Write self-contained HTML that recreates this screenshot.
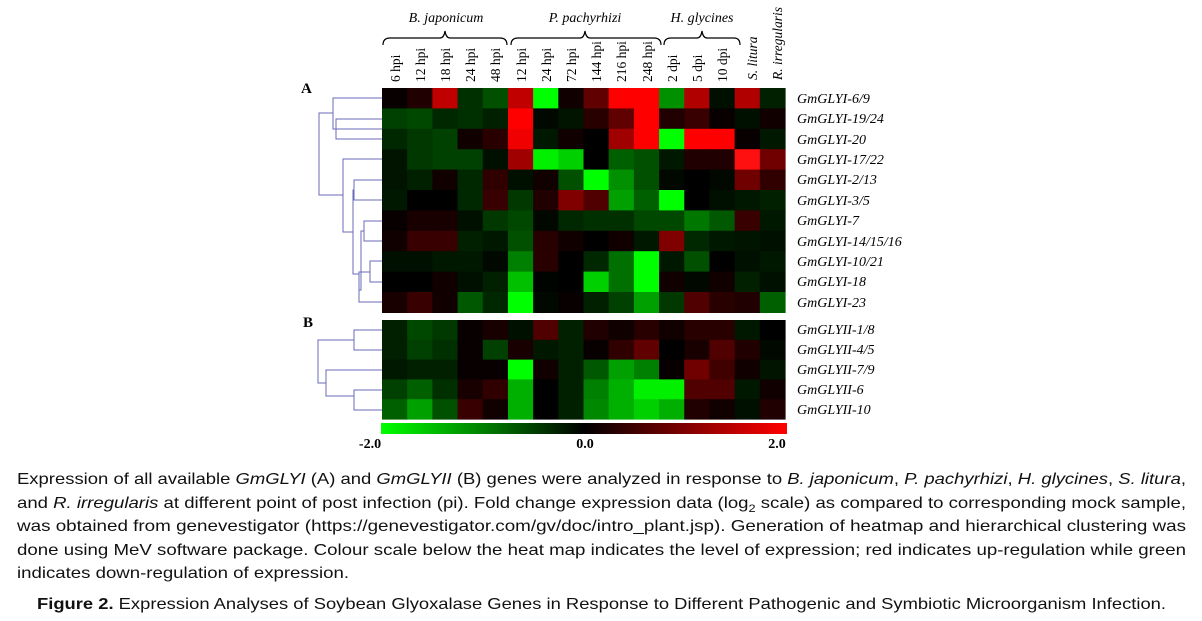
<!DOCTYPE html>
<html><head><meta charset="utf-8"><style>
html,body{margin:0;padding:0;background:#fff;width:1202px;height:621px;overflow:hidden}
svg{display:block}
.cap{font-family:"Liberation Sans",sans-serif;font-size:16px;fill:#111}
.lab{font-family:"Liberation Serif",serif;font-style:italic;font-size:14px;fill:#000}
.col{font-family:"Liberation Serif",serif;font-size:13.5px;fill:#000}
</style></head><body>
<svg id="s" width="1202" height="621" xmlns="http://www.w3.org/2000/svg">
<defs><linearGradient id="g" x1="0" x2="1" y1="0" y2="0"><stop offset="0" stop-color="#00ff00"/><stop offset="0.5" stop-color="#000"/><stop offset="1" stop-color="#ff0000"/></linearGradient></defs>
<g id="hm"></g>
<rect x="381" y="423" width="406" height="11" fill="url(#g)"/>
<g font-family="Liberation Serif,serif" font-weight="bold" font-size="14">
<text x="370" y="448" text-anchor="middle">-2.0</text>
<text x="585" y="448" text-anchor="middle">0.0</text>
<text x="777" y="448" text-anchor="middle">2.0</text>
<text x="301" y="93" font-size="15">A</text>
<text x="303" y="327" font-size="15">B</text>
</g>
<g fill="none" stroke="#000" stroke-width="1.2">
<path d="M383,45 Q383,38 390,38 L440,38 Q444,38 445,31 Q446,38 450,38 L500,38 Q507,38 507,45"/>
<path d="M511,45 Q511,38 518,38 L580,38 Q584,38 585,31 Q586,38 590,38 L654,38 Q661,38 661,45"/>
<path d="M664,45 Q664,38 671,38 L697,38 Q701,38 702,31 Q703,38 707,38 L734,38 Q740,38 740,45"/>
</g>
<g class="lab">
<text x="446" y="22" text-anchor="middle">B. japonicum</text>
<text x="585" y="22" text-anchor="middle">P. pachyrhizi</text>
<text x="702" y="22" text-anchor="middle">H. glycines</text>
<text transform="translate(757,80) rotate(-90)" font-size="13.5">S. litura</text>
<text transform="translate(782,80) rotate(-90)" font-size="13.5">R. irregularis</text>
</g>
<g class="col">
<text transform="translate(400,82) rotate(-90)">6 hpi</text>
<text transform="translate(425,82) rotate(-90)">12 hpi</text>
<text transform="translate(450,82) rotate(-90)">18 hpi</text>
<text transform="translate(475,82) rotate(-90)">24 hpi</text>
<text transform="translate(500,82) rotate(-90)">48 hpi</text>
<text transform="translate(526,82) rotate(-90)">12 hpi</text>
<text transform="translate(551,82) rotate(-90)">24 hpi</text>
<text transform="translate(576,82) rotate(-90)">72 hpi</text>
<text transform="translate(601,82) rotate(-90)">144 hpi</text>
<text transform="translate(626,82) rotate(-90)">216 hpi</text>
<text transform="translate(652,82) rotate(-90)">248 hpi</text>
<text transform="translate(677,82) rotate(-90)">2 dpi</text>
<text transform="translate(702,82) rotate(-90)">5 dpi</text>
<text transform="translate(727,82) rotate(-90)">10 dpi</text>
</g>
<g class="lab">
<text x="797" y="103">GmGLYI-6/9</text>
<text x="797" y="123">GmGLYI-19/24</text>
<text x="797" y="144">GmGLYI-20</text>
<text x="797" y="164">GmGLYI-17/22</text>
<text x="797" y="184">GmGLYI-2/13</text>
<text x="797" y="205">GmGLYI-3/5</text>
<text x="797" y="225">GmGLYI-7</text>
<text x="797" y="246">GmGLYI-14/15/16</text>
<text x="797" y="266">GmGLYI-10/21</text>
<text x="797" y="286">GmGLYI-18</text>
<text x="797" y="307">GmGLYI-23</text>
<text x="797" y="334">GmGLYII-1/8</text>
<text x="797" y="354">GmGLYII-4/5</text>
<text x="797" y="374">GmGLYII-7/9</text>
<text x="797" y="394">GmGLYII-6</text>
<text x="797" y="414">GmGLYII-10</text>
</g>
<g fill="none" stroke="#6a6ab8" stroke-width="1">
<path d="M382,98 H333 V129 H382"/>
<path d="M382,119 H336 V139 H382"/>
<path d="M333,113 H319 V195 H343"/>
<path d="M382,159 H343 V232 H353"/>
<path d="M382,180 H354 V200 H382"/>
<path d="M354,190 H353 V274 H359"/>
<path d="M382,221 H364 V241 H382"/>
<path d="M364,231 H361 V290 H359"/>
<path d="M382,261 H370 V282 H382"/>
<path d="M370,272 H359 V302 H382"/>
<path d="M382,330 H354 V350 H382"/>
<path d="M354,340 H318 V383 H326"/>
<path d="M382,370 H326 V396 H354"/>
<path d="M382,390 H354 V410 H382"/>
</g>
<g class="cap">
<text x="17" y="484" textLength="1169" lengthAdjust="spacingAndGlyphs">Expression of all available <tspan font-style="italic">GmGLYI</tspan> (A) and <tspan font-style="italic">GmGLYII</tspan> (B) genes were analyzed in response to <tspan font-style="italic">B. japonicum</tspan>, <tspan font-style="italic">P. pachyrhizi</tspan>, <tspan font-style="italic">H. glycines</tspan>, <tspan font-style="italic">S. litura</tspan>,</text>
<text x="17" y="508" textLength="1169" lengthAdjust="spacingAndGlyphs">and <tspan font-style="italic">R. irregularis</tspan> at different point of post infection (pi). Fold change expression data (log<tspan font-size="11" dy="4">2</tspan><tspan dy="-4"> scale) as compared to corresponding mock sample,</tspan></text>
<text x="17" y="531" textLength="1169" lengthAdjust="spacingAndGlyphs">was obtained from genevestigator (https://genevestigator.com/gv/doc/intro_plant.jsp). Generation of heatmap and hierarchical clustering was</text>
<text x="17" y="555" textLength="1169" lengthAdjust="spacingAndGlyphs">done using MeV software package. Colour scale below the heat map indicates the level of expression; red indicates up-regulation while green</text>
<text x="17" y="578" textLength="332" lengthAdjust="spacingAndGlyphs">indicates down-regulation of expression.</text>
<text x="37" y="609" textLength="1129" lengthAdjust="spacingAndGlyphs"><tspan font-weight="bold">Figure 2.</tspan> Expression Analyses of Soybean Glyoxalase Genes in Response to Different Pathogenic and Symbiotic Microorganism Infection.</text>
</g>
</svg>
<script>
var A=[
"080000 200000 c00000 003000 005000 c00000 00ff00 100000 600000 ff0000 ff0000 009000 b00000 001000 b00000 002000",
"004000 004800 002800 003000 002000 ff0000 000800 001400 280000 600000 ff0000 200000 380000 080000 001000 100000",
"002800 003800 004000 100000 280000 f00000 001800 100000 000000 a00000 ff0000 00ff00 ff0000 ff0000 080000 001800",
"001400 003800 004000 004000 001000 a00000 00f000 00d000 000000 006000 005000 001800 200000 200000 ff1010 700000",
"001400 002000 100000 002800 300000 001000 100000 005000 00ff00 009000 005000 000800 000000 000800 700000 300000",
"001800 000000 000000 002800 380000 003800 200000 800000 500000 00a000 006000 00ff00 000000 001000 001800 002000",
"080000 180000 180000 001000 003800 004800 000800 002800 003000 003000 004800 004800 007800 005800 380000 001800",
"100000 380000 380000 002000 001800 005000 280000 100000 000000 100000 001800 800000 002800 001800 001400 001000",
"001000 001000 001800 001800 000800 008000 280000 000000 002800 007000 00ff00 001800 005000 000000 001000 001800",
"000000 000000 100000 001000 002000 00c000 000400 000000 00d000 007000 00ff00 100000 000800 100000 002000 001000",
"180000 380000 100000 005800 002800 00ff00 000800 080000 002000 004000 00a000 003800 500000 280000 200000 006000"];
var B=[
"002000 004800 003800 080000 180000 001000 500000 002000 200000 100000 280000 100000 280000 280000 001800 000000",
"002000 004000 003000 080000 004000 180000 001800 002000 080000 300000 600000 000000 180000 500000 200000 000800",
"001800 002000 002000 080000 080000 00ff00 100000 002000 005800 00a000 008000 080000 700000 400000 100000 001400",
"004000 006000 003000 180000 300000 00b000 000000 002000 008000 00b000 00f000 00f000 500000 500000 001800 100000",
"006000 00a000 005000 380000 100000 00b000 000000 002000 008800 00b000 00d000 00b000 200000 100000 001000 200000"];
var g=document.getElementById('hm'),h='';
var cw=403/16;
function draw(M,y0,rh){for(var r=0;r<M.length;r++){var c=M[r].split(' ');for(var i=0;i<16;i++){
h+='<rect x="'+(382+i*cw).toFixed(2)+'" y="'+(y0+r*rh).toFixed(2)+'" width="'+(cw+0.6).toFixed(2)+'" height="'+(rh+0.6).toFixed(2)+'" fill="#'+c[i]+'"/>';}}}
draw(A,88,20.4);draw(B,320,19.8);
g.innerHTML=h;
</script>
</body></html>
